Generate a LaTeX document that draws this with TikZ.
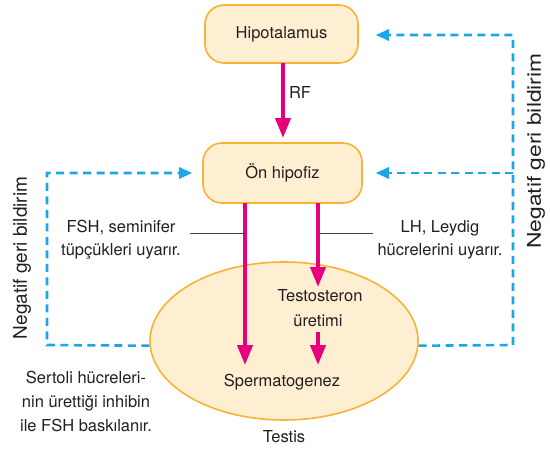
\documentclass[tikz,border=0pt]{standalone}
\usepackage{fontspec}
\usepackage{graphicx}
\setmainfont{TeX Gyre Heros}
\usetikzlibrary{arrows.meta,shapes.geometric}
\definecolor{boxfill}{HTML}{FFEFD2}
\definecolor{boxdraw}{HTML}{F9B233}
\definecolor{pinkarr}{HTML}{E6007E}
\definecolor{bluedash}{HTML}{1AA7E8}
\definecolor{graytxt}{HTML}{231F20}
\tikzset{
  roundbox/.style={draw=boxdraw, fill=boxfill, line width=1.6pt, rounded corners=19pt, align=center, inner sep=0pt},
  pinkarrow/.style={draw=pinkarr, line width=4pt, -{Triangle[width=15pt,length=20pt]}},
  feedback/.style={draw=bluedash, line width=2.6pt, dash pattern=on 8pt off 5.5pt, -{Triangle[width=11pt,length=13pt]}},
  lbl/.style={font=\fontsize{16.5}{23}\selectfont, text=graytxt, align=center, inner sep=0pt},
  sidelbl/.style={font=\fontsize{19}{23}\selectfont, text=graytxt, inner sep=0pt, rotate=90},
  pointer/.style={draw=black!75, line width=0.7pt}
}
\begin{document}
\begin{tikzpicture}[x=1pt,y=-1pt]
\useasboundingbox (0,0) rectangle (550,450);
% ellipse
\node[ellipse, draw=boxdraw, fill=boxfill, line width=1.6pt, minimum width=268pt, minimum height=158pt, inner sep=0pt] (ell) at (284,341) {};
% boxes
\node[roundbox, minimum width=153pt, minimum height=58pt] (hipo) at (281.5,34) {};
\node[lbl] (hipot) at (281.5,34) {Hipotalamus};
\node[roundbox, minimum width=159pt, minimum height=60pt] (on) at (282.5,173) {};
\node[lbl] (ont) at (282.5,173) {Ön hipofiz};
% texts
\node[lbl] (rf) at (300,92) {RF};
\node[lbl] (fsh) at (121,240) {FSH, seminifer\\tüpçükleri uyarır.};
\node[lbl] (lh) at (440,240) {LH, Leydig\\hücrelerini uyarır.};
\node[lbl] (test) at (320,296) {Testosteron};
\node[lbl] (uret) at (318,321) {üretimi};
\node[lbl] (sperm) at (282,382) {Spermatogenez};
\node[lbl] (testis) at (284,437) {Testis};
\node[lbl, font=\fontsize{16.5}{24}\selectfont] (sert) at (86,401) {Sertoli hücreleri-\\nin ürettiği inhibin\\ile FSH baskılanır.};
\node[sidelbl] (nl) at (22,258) {Negatif geri bildirim};
\node[sidelbl] (nr) at (536,151) {\scalebox{1.2}[1]{Negatif geri bildirim}};
% coordinates
\coordinate (rfs) at (283,63);
\coordinate (rfe) at (283,138);
\coordinate (ls) at (245,203);
\coordinate (le) at (245,365);
\coordinate (rs) at (318,203);
\coordinate (re) at (318,287);
\coordinate (ts) at (318,332);
\coordinate (te) at (318,365);
\coordinate (bl) at (47,345);
\coordinate (tl) at (47,173);
\coordinate (br) at (513,345);
\coordinate (tr) at (513,35);
\coordinate (mr) at (513,173);
\coordinate (lp1) at (190,233);
\coordinate (lp2) at (245,233);
\coordinate (rp1) at (320,233);
\coordinate (rp2) at (373,233);
% pink arrows
\draw[pinkarrow] (rfs) -- (rfe);
\draw[pinkarrow] (ls) -- (le);
\draw[pinkarrow] (rs) -- (re);
\draw[pinkarrow] (ts) -- (te);
% pointer lines
\draw[pointer] (lp1) -- (lp2);
\draw[pointer] (rp1) -- (rp2);
% feedback
\draw[feedback, shorten >=10pt] (ell.182) -- (bl) -- (tl) -- (on.west |- tl);
\draw[feedback, shorten >=17pt] (ell.-2) -- (br) -- (tr) -- (hipo.east |- tr);
\draw[feedback, shorten >=13pt] (mr) -- (on.east |- mr);
\end{tikzpicture}
\end{document}
